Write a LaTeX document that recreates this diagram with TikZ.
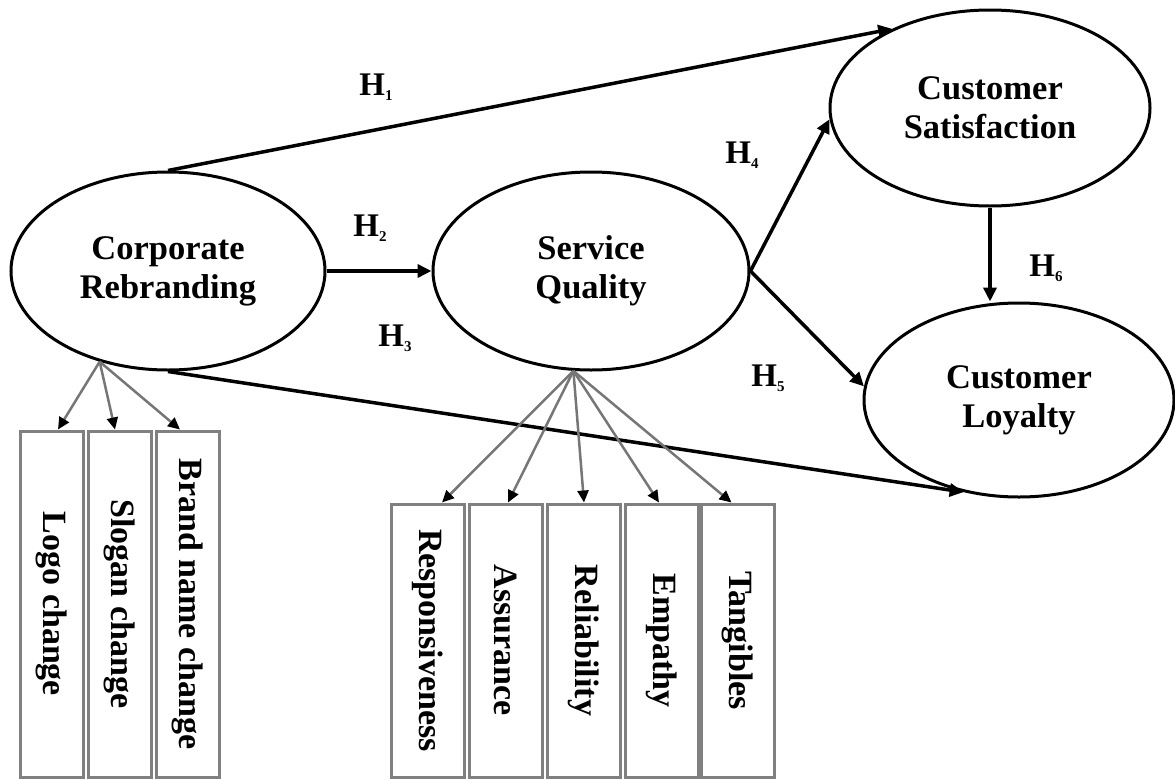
\documentclass[tikz,border=0pt]{standalone}
\usepackage{fontspec}
\setmainfont{Liberation Serif}
\usetikzlibrary{shapes.geometric,arrows.meta,calc}
\definecolor{boxgray}{RGB}{128,128,128}
\definecolor{indgray}{RGB}{118,118,118}
\newcommand\hyp[1]{H{\fontsize{15}{15}\selectfont\raisebox{-5pt}{#1}}}
\begin{document}
\begin{tikzpicture}[x=1pt,y=-1pt,
  lat/.style={ellipse,draw,line width=3pt,inner sep=0pt,align=center,font=\bfseries\fontsize{34.5}{39}\selectfont},
  ind/.style={draw=boxgray,line width=3pt,inner sep=0pt,font=\bfseries\fontsize{34}{39}\selectfont},
  mainarrow/.style={line width=3.5pt,-{Triangle[length=14pt,width=13pt]}},
  indarrow/.style={draw=indgray,line width=2.5pt,-{Triangle[length=12pt,width=11pt,color=black]}},
  hlab/.style={font=\bfseries\fontsize{33}{38}\selectfont,inner sep=0pt}
]
\useasboundingbox (0,0) rectangle (1175,779);

% latent constructs
\node[lat,minimum width=314pt,minimum height=198pt] (C)  at (168,271)  {Corporate\\Rebranding};
\node[lat,minimum width=316pt,minimum height=198pt] (SQ) at (591,271)  {Service\\Quality};
\node[lat,minimum width=320pt,minimum height=196pt] (CS) at (990,108)  {Customer\\Satisfaction};
\node[lat,minimum width=310pt,minimum height=194pt] (CL) at (1019,400) {Customer\\Loyalty};

% indicator boxes: corporate rebranding
\node[ind,minimum width=63pt,minimum height=346pt] (b1) at (52,604)  {\rotatebox{-90}{Logo change}};
\node[ind,minimum width=63pt,minimum height=346pt] (b2) at (120,604) {\rotatebox{-90}{Slogan change}};
\node[ind,minimum width=63pt,minimum height=346pt] (b3) at (188,604) {\rotatebox{-90}{Brand name change}};

% indicator boxes: service quality
\node[ind,minimum width=73pt,minimum height=273pt] (s1) at (428,640.5)   {\rotatebox{-90}{Responsiveness}};
\node[ind,minimum width=73pt,minimum height=273pt] (s2) at (506,640.5)   {\rotatebox{-90}{Assurance}};
\node[ind,minimum width=73pt,minimum height=273pt] (s3) at (584,640.5)   {\rotatebox{-90}{Reliability}};
\node[ind,minimum width=73pt,minimum height=273pt] (s4) at (661.5,640.5) {\rotatebox{-90}{Empathy}};
\node[ind,minimum width=73pt,minimum height=273pt] (s5) at (738,640.5)   {\rotatebox{-90}{Tangibles}};

% hypothesis labels
\node[hlab] (h1) at (376,87)  {\hyp{1}};
\node[hlab] (h2) at (370,228) {\hyp{2}};
\node[hlab] (h3) at (395,338) {\hyp{3}};
\node[hlab] (h4) at (742,155) {\hyp{4}};
\node[hlab] (h5) at (768,378) {\hyp{5}};
\node[hlab] (h6) at (1046,268) {\hyp{6}};

% structural paths
\draw[mainarrow] (C.north) -- (CS.141);
\draw[mainarrow] (C.east) -- (SQ.west);
\draw[mainarrow] (C.south) -- (CL.239);
\draw[mainarrow] (SQ.east) -- (CS.184);
\draw[mainarrow] (SQ.east) -- (CL.175);
\draw[mainarrow] (CS.south) -- (CS.south |- CL.north);

% measurement paths
\draw[indarrow] (C.233) -- ([xshift=6pt]b1.north);
\draw[indarrow] (C.233) -- ([xshift=-5pt]b2.north);
\draw[indarrow] (C.233) -- ([xshift=-8pt]b3.north);
\draw[indarrow] (SQ.260) -- ([xshift=14pt]s1.north);
\draw[indarrow] (SQ.260) -- ([xshift=2pt]s2.north);
\draw[indarrow] (SQ.260) -- (s3.north);
\draw[indarrow] (SQ.260) -- ([xshift=-2.5pt]s4.north);
\draw[indarrow] (SQ.260) -- ([xshift=-6.5pt]s5.north);
\end{tikzpicture}
\end{document}
